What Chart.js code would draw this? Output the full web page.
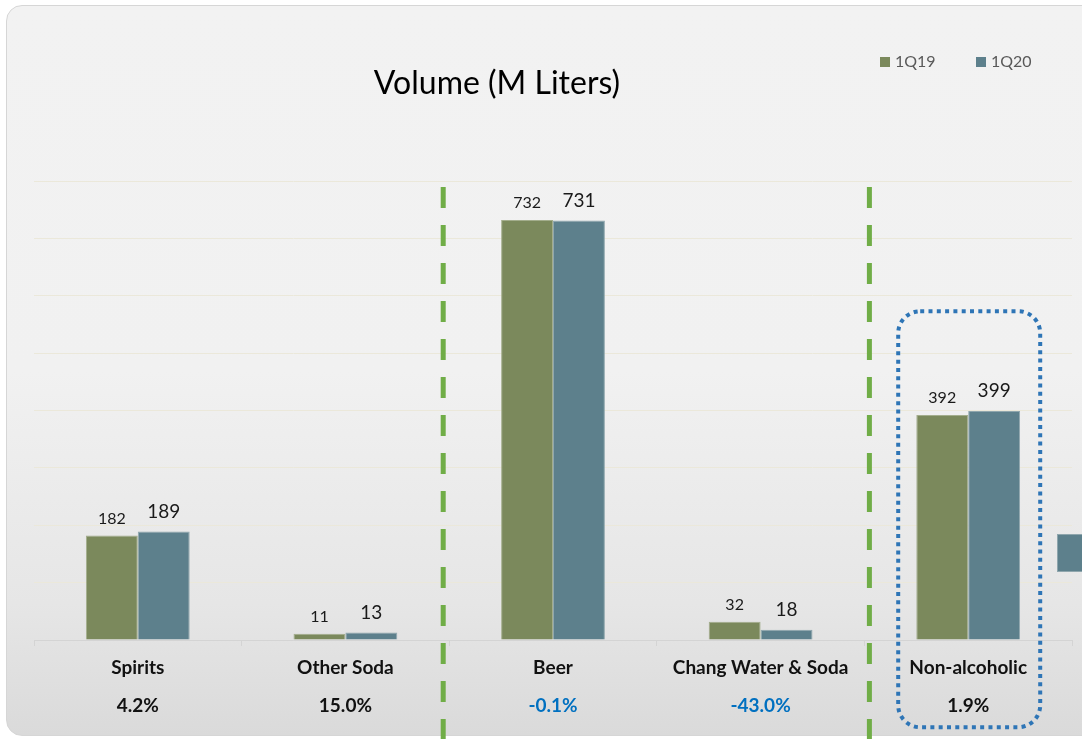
<!DOCTYPE html>
<html>
<head>
<meta charset="utf-8">
<script src="https://cdn.jsdelivr.net/npm/chart.js@4.4.0/dist/chart.umd.min.js"></script>
<style>
  body { margin: 0; background: #ffffff; }
  #wrap { position: relative; width: 1082px; height: 739px; overflow: hidden; }
  #panel {
    position: absolute; left: 6px; top: 5px; width: 1110px; height: 729px;
    border: 1.5px solid #d6d6d6; border-radius: 16px;
    background: linear-gradient(#f2f2f2 0%, #f1f1f1 50%, #e6e6e6 82%, #dadada 100%);
  }
  #stub {
    position: absolute; left: 1057px; top: 534px; width: 40px; height: 36px;
    background: #5d808c; border: 1px solid #8fa6ad;
  }
  canvas { position: absolute; left: 0; top: 0; }
</style>
</head>
<body>
<div id="wrap">
  <div id="panel"></div>
  <div id="stub"></div>
  <canvas id="chart" width="1082" height="739"></canvas>
</div>
<script>
// chart data
const categories = ["Spirits", "Other Soda", "Beer", "Chang Water & Soda", "Non-alcoholic"];
const volume1Q19 = [182, 11, 732, 32, 392];
const volume1Q20 = [189, 13, 731, 18, 399];
const growthLabels = ["4.2%", "15.0%", "-0.1%", "-43.0%", "1.9%"];
const seriesNames = ["1Q19", "1Q20"];
const yTicks = [0, 100, 200, 300, 400, 500, 600, 700, 800];

const olive = "#7b895c";
const teal = "#5d808c";
const fontFamily = "Lato, 'Open Sans', sans-serif";

// title, legend, value labels, category labels, separators
const decorPlugin = {
  id: "decor",
  afterDatasetsDraw(chart) {
    const ctx = chart.ctx;
    const x = chart.scales.x;
    const y = chart.scales.y;

    // value labels above bars
    chart.data.datasets.forEach((ds, di) => {
      const meta = chart.getDatasetMeta(di);
      ctx.save();
      ctx.fillStyle = "#1a1a1a";
      ctx.textAlign = "center";
      ctx.textBaseline = "alphabetic";
      ctx.font = (di === 0 ? "16px " : "19px ") + fontFamily;
      meta.data.forEach((bar, i) => {
        ctx.fillText(String(ds.data[i]), bar.x, bar.y - (di === 0 ? 12 : 14));
      });
      ctx.restore();
    });

    // dashed green separators
    ctx.save();
    ctx.strokeStyle = "#70ad47";
    ctx.lineWidth = 5;
    ctx.setLineDash([21, 17]);
    const seps = [
      (x.getPixelForValue(1) + x.getPixelForValue(2)) / 2 - 6,
      (x.getPixelForValue(3) + x.getPixelForValue(4)) / 2 + 5
    ];
    seps.forEach(sx => {
      ctx.beginPath();
      ctx.moveTo(sx, 187);
      ctx.lineTo(sx, 739);
      ctx.stroke();
    });
    ctx.restore();

    // dotted highlight box round the last category
    const cx = x.getPixelForValue(4);
    ctx.save();
    ctx.strokeStyle = "#2e75b6";
    ctx.lineWidth = 4;
    ctx.setLineDash([4, 4.3]);
    ctx.beginPath();
    ctx.roundRect(cx - 70, y.getPixelForValue(573), 142, 416, 22);
    ctx.stroke();
    ctx.restore();
  },
  afterDraw(chart) {
    const ctx = chart.ctx;
    const x = chart.scales.x;

    // category names and growth
    ctx.save();
    ctx.textAlign = "center";
    ctx.textBaseline = "middle";
    categories.forEach((name, i) => {
      const px = x.getPixelForValue(i);
      ctx.font = "bold 19px " + fontFamily;
      ctx.fillStyle = "#111111";
      ctx.fillText(name, px, 668);
      ctx.fillStyle = growthLabels[i].startsWith("-") ? "#0070c0" : "#111111";
      ctx.fillText(growthLabels[i], px, 706);
    });
    ctx.restore();

    // title
    ctx.save();
    ctx.font = "32px " + fontFamily;
    ctx.fillStyle = "#000000";
    ctx.textAlign = "center";
    ctx.textBaseline = "middle";
    ctx.fillText("Volume (M Liters)", 497, 84);
    ctx.restore();

    // legend
    const legendX = [880, 976];
    ctx.save();
    ctx.font = "16px " + fontFamily;
    ctx.textBaseline = "middle";
    chart.data.datasets.forEach((ds, i) => {
      ctx.fillStyle = ds.backgroundColor;
      ctx.fillRect(legendX[i], 57, 10, 10);
      ctx.fillStyle = "#595959";
      ctx.fillText(ds.label, legendX[i] + 15, 62);
    });
    ctx.restore();
  }
};

new Chart(document.getElementById("chart"), {
  type: "bar",
  data: {
    labels: categories,
    datasets: [
      { label: seriesNames[0], data: volume1Q19, backgroundColor: olive, borderColor: "#a3ad8c", borderWidth: 1 },
      { label: seriesNames[1], data: volume1Q20, backgroundColor: teal, borderColor: "#8fa6ad", borderWidth: 1 }
    ]
  },
  options: {
    responsive: false,
    animation: false,
    events: [],
    layout: { padding: { left: 34, right: 10, top: 181, bottom: 93 } },
    datasets: { bar: { categoryPercentage: 0.5, barPercentage: 1.0 } },
    plugins: { legend: { display: false }, title: { display: false }, tooltip: { enabled: false } },
    scales: {
      x: {
        ticks: { display: false },
        grid: { drawOnChartArea: false, drawTicks: true, tickLength: 6, offset: true, color: "#d4d4d4" },
        border: { color: "#d4d4d4" }
      },
      y: {
        min: yTicks[0],
        max: yTicks[yTicks.length - 1],
        afterBuildTicks: scale => { scale.ticks = yTicks.map(v => ({ value: v })); },
        ticks: { display: false },
        grid: {
          drawTicks: false,
          color: c => (c.tick && c.tick.value === 0 ? "#d4d4d4" : "#ebe8da")
        },
        border: { display: false }
      }
    }
  },
  plugins: [decorPlugin]
});
</script>
</body>
</html>
